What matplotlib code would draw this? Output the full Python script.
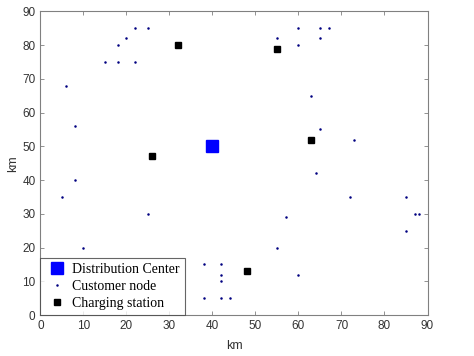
import matplotlib
matplotlib.use("Agg")
import matplotlib.pyplot as plt

# Distribution center
dc_x = [40]
dc_y = [50]

# Customer nodes
cust_x = [6, 8, 15, 18, 18, 20, 22, 25, 22, 8, 5, 25, 10, 38, 42, 42, 42, 38, 42, 44,
          60, 65, 67, 55, 65, 60, 63, 65, 73, 64, 72, 85, 87, 88, 85, 57, 55, 60]
cust_y = [68, 56, 75, 75, 80, 82, 85, 85, 75, 40, 35, 30, 20, 15, 15, 12, 10, 5, 5, 5,
          85, 85, 85, 82, 82, 80, 65, 55, 52, 42, 35, 35, 30, 30, 25, 29, 20, 12]

# Charging stations
cs_x = [32, 26, 55, 63, 48]
cs_y = [80, 47, 79, 52, 13]

x_ticks = [0, 10, 20, 30, 40, 50, 60, 70, 80, 90]
y_ticks = [0, 10, 20, 30, 40, 50, 60, 70, 80, 90]

plt.rcParams['font.family'] = ['Liberation Sans', 'DejaVu Sans']

fig = plt.figure(figsize=(4.74, 3.56), dpi=100)
ax = fig.add_axes([0.0854, 0.115, 0.8165, 0.853])

ax.plot(dc_x, dc_y, 's', color='#0000ff', markersize=8, label='Distribution Center')
ax.plot(cust_x, cust_y, 'o', color='#000080', markersize=1.8, markeredgewidth=0,
        label='Customer node')
ax.plot(cs_x, cs_y, 's', color='black', markersize=4.8, label='Charging station')

ax.set_xlim(0, 90)
ax.set_ylim(0, 90)
ax.set_xticks(x_ticks)
ax.set_yticks(y_ticks)

grey = '#333333'
for s in ax.spines.values():
    s.set_color('#808080')
    s.set_linewidth(0.8)
ax.tick_params(direction='in', top=True, right=True, length=3, width=0.6,
               colors='#808080', labelcolor=grey, labelsize=8.5, pad=3.5)

ax.set_xlabel('km', fontsize=9, color=grey, labelpad=5.5)
ax.set_ylabel('km', fontsize=9, color=grey, labelpad=2)

leg = ax.legend(loc='lower left', prop={'family': 'Liberation Serif', 'size': 10},
                borderaxespad=0, frameon=True, fancybox=False, handlelength=1.6,
                handletextpad=0.3, labelspacing=0.26, borderpad=0.4, markerscale=1.0)
leg.get_frame().set_edgecolor('#404040')
leg.get_frame().set_linewidth(0.8)

fig.savefig('out.png', dpi=100)
